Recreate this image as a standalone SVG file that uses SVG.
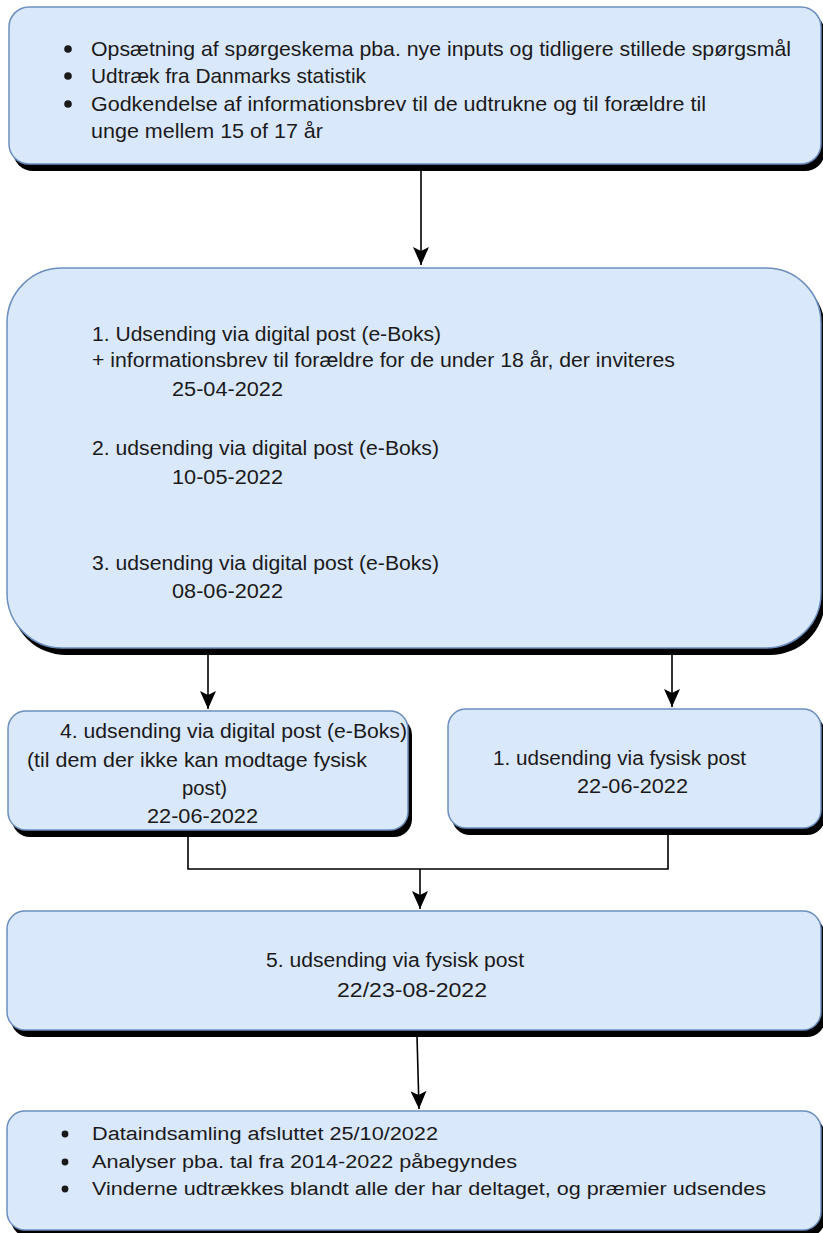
<svg xmlns="http://www.w3.org/2000/svg" width="823" height="1233" viewBox="0 0 823 1233">
  <defs>
    <style>
      .box { fill: #dae8fc; stroke: #6c8ebf; stroke-width: 1.5; }
      .shadow { fill: #000000; }
      .t { font-family: "Liberation Sans", Arial, sans-serif; fill: #1a1a1a; }
      .t20 { font-size: 21px; }
      .t18 { font-size: 19.5px; }
      .t17 { font-size: 18px; }
      .bullet { fill: #1a1a1a; }
      .conn { fill: none; stroke: #000000; stroke-width: 1.6; }
    </style>
    <marker id="arrow" markerUnits="userSpaceOnUse" markerWidth="18" markerHeight="16" refX="18" refY="8" orient="auto">
      <path d="M0,0 L18,8 L0,16 L4,8 z" fill="#000000"/>
    </marker>
  </defs>
  <rect x="0" y="0" width="823" height="1233" fill="#ffffff"/>

  <g id="connectors">
    <line class="conn" x1="421" y1="171" x2="421" y2="265" marker-end="url(#arrow)"/>
    <line class="conn" x1="208" y1="654" x2="208" y2="709" marker-end="url(#arrow)"/>
    <line class="conn" x1="672" y1="654" x2="672" y2="707" marker-end="url(#arrow)"/>
    <polyline class="conn" points="188,836 188,869 668,869 668,834"/>
    <line class="conn" x1="420" y1="869" x2="420" y2="909" marker-end="url(#arrow)"/>
    <line class="conn" x1="417" y1="1036" x2="419" y2="1109" marker-end="url(#arrow)"/>
  </g>

  <g id="node-prep">
    <rect class="shadow" x="13" y="13" width="812" height="158" rx="20"/>
    <rect class="box" x="9" y="7" width="812" height="157" rx="20"/>
    <circle class="bullet" cx="68" cy="49" r="3.8"/>
    <circle class="bullet" cx="68" cy="76" r="3.8"/>
    <circle class="bullet" cx="68" cy="104" r="3.8"/>
    <text class="t t20" x="91" y="56" textLength="700" lengthAdjust="spacingAndGlyphs">Opsætning af spørgeskema pba. nye inputs og tidligere stillede spørgsmål</text>
    <text class="t t20" x="91" y="83" textLength="275" lengthAdjust="spacingAndGlyphs">Udtræk fra Danmarks statistik</text>
    <text class="t t20" x="91" y="111" textLength="615" lengthAdjust="spacingAndGlyphs">Godkendelse af informationsbrev til de udtrukne og til forældre til</text>
    <text class="t t20" x="91" y="138" textLength="232" lengthAdjust="spacingAndGlyphs">unge mellem 15 of 17 år</text>
  </g>

  <g id="node-digital">
    <rect class="shadow" x="11" y="274" width="814" height="381" rx="55"/>
    <rect class="box" x="7" y="268" width="814" height="380" rx="55"/>
    <text class="t t18" x="92" y="341" textLength="349" lengthAdjust="spacingAndGlyphs">1. Udsending via digital post (e-Boks)</text>
    <text class="t t18" x="92" y="367" textLength="583" lengthAdjust="spacingAndGlyphs">+ informationsbrev til forældre for de under 18 år, der inviteres</text>
    <text class="t t18" x="172" y="396" textLength="111" lengthAdjust="spacingAndGlyphs">25-04-2022</text>
    <text class="t t18" x="92" y="455" textLength="347" lengthAdjust="spacingAndGlyphs">2. udsending via digital post (e-Boks)</text>
    <text class="t t18" x="172" y="484" textLength="111" lengthAdjust="spacingAndGlyphs">10-05-2022</text>
    <text class="t t18" x="92" y="570" textLength="347" lengthAdjust="spacingAndGlyphs">3. udsending via digital post (e-Boks)</text>
    <text class="t t18" x="172" y="598" textLength="111" lengthAdjust="spacingAndGlyphs">08-06-2022</text>
  </g>

  <g id="node-digital4">
    <rect class="shadow" x="12" y="717" width="400" height="120" rx="18"/>
    <rect class="box" x="8" y="711" width="400" height="119" rx="18"/>
    <text class="t t18" x="60" y="738" textLength="347" lengthAdjust="spacingAndGlyphs">4. udsending via digital post (e-Boks)</text>
    <text class="t t18" x="27" y="767" textLength="340" lengthAdjust="spacingAndGlyphs">(til dem der ikke kan modtage fysisk</text>
    <text class="t t18" x="182" y="795" textLength="45" lengthAdjust="spacingAndGlyphs">post)</text>
    <text class="t t18" x="147" y="823" textLength="111" lengthAdjust="spacingAndGlyphs">22-06-2022</text>
  </g>

  <g id="node-physical1">
    <rect class="shadow" x="452" y="715" width="373" height="120" rx="18"/>
    <rect class="box" x="448" y="709" width="373" height="119" rx="18"/>
    <text class="t t18" x="493" y="765" textLength="253" lengthAdjust="spacingAndGlyphs">1. udsending via fysisk post</text>
    <text class="t t18" x="577" y="793" textLength="111" lengthAdjust="spacingAndGlyphs">22-06-2022</text>
  </g>

  <g id="node-physical5">
    <rect class="shadow" x="11" y="917" width="814" height="120" rx="18"/>
    <rect class="box" x="7" y="911" width="814" height="119" rx="18"/>
    <text class="t t18" x="266" y="967" textLength="258" lengthAdjust="spacingAndGlyphs">5. udsending via fysisk post</text>
    <text class="t t18" x="337" y="997" textLength="150" lengthAdjust="spacingAndGlyphs">22/23-08-2022</text>
  </g>

  <g id="node-final">
    <rect class="shadow" x="11" y="1117" width="814" height="120" rx="18"/>
    <rect class="box" x="7" y="1111" width="814" height="119" rx="18"/>
    <circle class="bullet" cx="65" cy="1134" r="3.4"/>
    <circle class="bullet" cx="65" cy="1162" r="3.4"/>
    <circle class="bullet" cx="65" cy="1189" r="3.4"/>
    <text class="t t17" x="92" y="1140" textLength="346" lengthAdjust="spacingAndGlyphs">Dataindsamling afsluttet 25/10/2022</text>
    <text class="t t17" x="92" y="1168" textLength="425" lengthAdjust="spacingAndGlyphs">Analyser pba. tal fra 2014-2022 påbegyndes</text>
    <text class="t t17" x="92" y="1195" textLength="674" lengthAdjust="spacingAndGlyphs">Vinderne udtrækkes blandt alle der har deltaget, og præmier udsendes</text>
  </g>
</svg>
